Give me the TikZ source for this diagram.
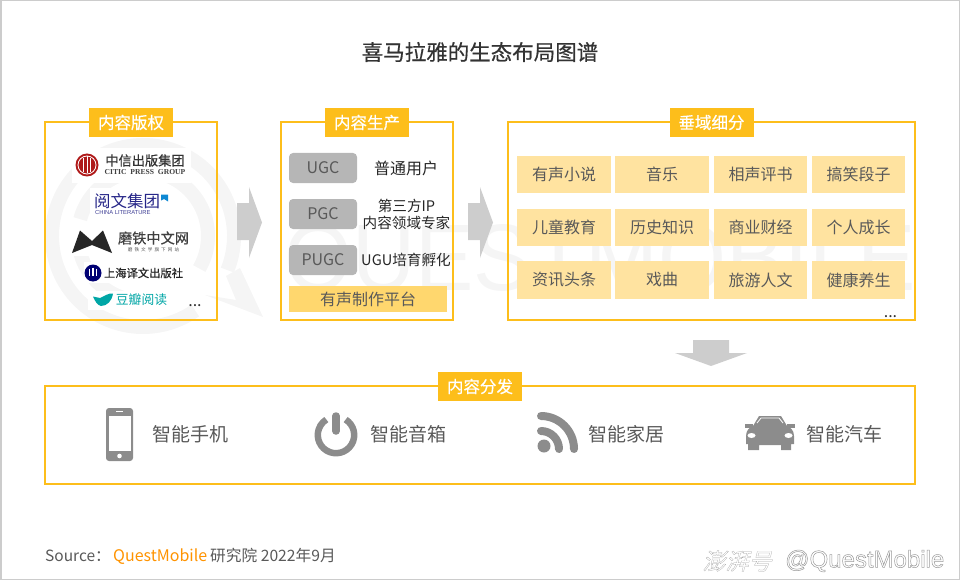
\documentclass[tikz,border=0pt]{standalone}
\usepackage{fontspec}
\setmainfont{Noto Sans CJK SC}
\newfontfamily\medfont[FakeBold=0.5]{Noto Sans CJK SC}
\newfontfamily\slantfont[FakeSlant=0.25,FakeBold=1]{Noto Sans CJK SC}
\newfontfamily\serfont{Liberation Serif}
\newfontfamily\armfont{Liberation Sans}
\definecolor{panelyellow}{HTML}{FDBE1B}
\definecolor{cellyellow}{HTML}{FFE3A0}
\definecolor{plateyellow}{HTML}{FFD76E}
\definecolor{pillgrey}{HTML}{B6B6B6}
\definecolor{arrowgrey}{HTML}{CDCDCD}
\definecolor{icongrey}{HTML}{8C8C8C}
\definecolor{markgrey}{HTML}{F5F5F5}
\definecolor{textgrey}{HTML}{595959}
\newcommand{\fsz}[1]{\fontsize{#1}{#1}\selectfont}
\tikzset{
  panel/.style={draw=panelyellow,line width=2pt,inner sep=0pt},
  paneltag/.style={fill=panelyellow,text=white,inner sep=0pt,minimum width=84pt,minimum height=29pt,font=\medfont\fsz{16.5}},
  cell/.style={fill=cellyellow,text=textgrey,inner sep=0pt,minimum height=37pt,font=\fsz{16}},
  pill/.style={fill=pillgrey,text=textgrey,rounded corners=4pt,inner sep=0pt,minimum width=68pt,minimum height=30pt,font=\fsz{16}},
  roletext/.style={text=black!85,inner sep=0pt,font=\fsz{14.6},align=center},
  devtext/.style={text=textgrey,inner sep=0pt,font=\fsz{19}},
  blockarrow/.style={fill=arrowgrey,draw=none},
  icon/.style={fill=icongrey,draw=none},
  logoback/.style={fill=white,draw=none},
  marksty/.style={markgrey,line width=14pt}
}
\begin{document}
\begin{tikzpicture}[x=1pt,y=-1pt]
\useasboundingbox (0,0) rectangle (960,580);
\draw[line width=1.5pt,black!20] (0.75,0.75) rectangle (959.25,579.25);
% watermark
\draw[marksty] (143,236) ++(22:91) arc (22:-305:91);
\draw[marksty] (143,236) ++(30:65) arc (30:-165:65);
\draw[marksty] (143,236) ++(165:65) arc (165:75:65);
\fill[markgrey] (205,295)--(263,317)--(240,268)--(226,276)--(236,300)--cycle;
\node[text=markgrey,inner sep=0pt,anchor=west,font=\armfont\fsz{92}] (markletters) at (284,266){\resizebox{632pt}{66pt}{QUESTMOBILE}};
% title
\node[text=black!80,inner sep=0pt,font=\medfont\fsz{21.5}] (title) at (480,52){喜马拉雅的生态布局图谱};
% panels
\node[panel,minimum width=171.5pt,minimum height=197.5pt] (rights) at (131,221){};
\node[panel,minimum width=171.5pt,minimum height=197.5pt] (produce) at (367,221){};
\node[panel,minimum width=407pt,minimum height=197.5pt] (vertical) at (711.5,221){};
\node[panel,minimum width=870pt,minimum height=98pt] (deliver) at (480,434.5){};
\node[paneltag] (rightstag) at (131,122.5){内容版权};
\node[paneltag] (producetag) at (367,122.5){内容生产};
\node[paneltag] (verticaltag) at (711.5,122.5){垂域细分};
\node[paneltag] (delivertag) at (480,386.5){内容分发};
% logos
\fill[logoback] (72,148) rectangle (191,183);
\fill[logoback] (90,188) rectangle (170,216);
\fill[logoback] (72,228) rectangle (190,256);
\fill[logoback] (84,262) rectangle (188,283);
\fill[logoback] (88,291) rectangle (174,310);
\fill[red!65!black!90!white] (87,165) circle (11.5);
\draw[white,line width=0.8pt] (87,165) circle (9);
\draw[white,line width=1pt] (83.5,158)--(83.5,172) (87,156.5)--(87,173.5) (90.5,158)--(90.5,172);
\node[inner sep=0pt,text=black!80,font=\medfont\fsz{13.2}] (citic) at (145,160.5){中信出版集团};
\node[inner sep=0pt,text=black!75,font=\serfont\bfseries\fsz{7.6}] (citicen) at (145,172.5){CITIC\ \ PRESS\ \ GROUP};
\node[inner sep=0pt,text=blue!45!black!85,font=\fsz{16.5}] (yuewen) at (127,201){阅文集团};
\fill[cyan!70!blue] (161,194.5)--(168,194.5)--(168,201.5)--(164,199)--(161,200.5)--cycle;
\node[inner sep=0pt,anchor=west,text=blue!45!black!75,font=\armfont\fsz{5.8}] (yuewenen) at (95,213){CHINA LITERATURE};
\fill[black!85] (72,253)--(80,230.5)--(92,241)--(103,230.5)--(112,253)--(92,245)--cycle;
\node[inner sep=0pt,text=black!75,font=\medfont\fsz{14.2}] (motie) at (153.5,238){磨铁中文网};
\node[inner sep=0pt,text=black!65,font=\fsz{4.6}] (motiesub) at (153.5,249.5){磨\ \ 铁\ \ 文\ \ 学\ \ 旗\ \ 下\ \ 网\ \ 站};
\fill[blue!45!black] (93,273) circle (8.5);
\draw[white,line width=1.2pt] (89.5,268.5)--(89.5,276) (93,267.5)--(93,276) (96.5,268.5)--(96.5,276);
\node[inner sep=0pt,text=black!85,font=\medfont\fsz{11.3}] (yiwen) at (143.5,273){上海译文出版社};
\fill[teal!70!cyan] (93,296.5)--(100,298)..controls (105,296) and (108,293) .. (113,293.5)..controls (112,301) and (107,306) .. (101,306)..controls (97,305) and (95,301) .. cycle;
\node[inner sep=0pt,text=teal!70!cyan,font=\fsz{12.8}] (douban) at (141.5,300){豆瓣阅读};
\node[inner sep=0pt,anchor=base,text=black!80,font=\fsz{16}] (moreleft) at (195,306){...};
% production
\node[pill] (ugc) at (323,168){UGC};
\node[pill] (pgc) at (323,214){PGC};
\node[pill] (pugc) at (323,260){PUGC};
\node[roletext,font=\fsz{16}] (ugctext) at (406,168){普通用户};
\node[roletext] (pgctext) at (406.5,214.5){第三方IP\\[3pt]内容领域专家};
\node[roletext] (pugctext) at (406,260){UGU培育孵化};
\node[fill=plateyellow,text=textgrey,inner sep=0pt,minimum width=158pt,minimum height=26pt,font=\fsz{16}] (platform) at (368,299){有声制作平台};
% verticals
\node[cell,minimum width=94pt] (audiobook) at (564,174.5){有声小说};
\node[cell,minimum width=94pt] (music) at (662,174.5){音乐};
\node[cell,minimum width=93pt] (crosstalk) at (760.5,174.5){相声评书};
\node[cell,minimum width=93pt] (jokes) at (858.5,174.5){搞笑段子};
\node[cell,minimum width=94pt] (kids) at (564,227.5){儿童教育};
\node[cell,minimum width=94pt] (history) at (662,227.5){历史知识};
\node[cell,minimum width=93pt] (business) at (760.5,227.5){商业财经};
\node[cell,minimum width=93pt] (growth) at (858.5,227.5){个人成长};
\node[cell,minimum width=94pt,minimum height=38pt] (news) at (564,280){资讯头条};
\node[cell,minimum width=94pt,minimum height=38pt] (opera) at (662,280){戏曲};
\node[cell,minimum width=93pt,minimum height=38pt] (travel) at (760.5,280){旅游人文};
\node[cell,minimum width=93pt,minimum height=38pt] (health) at (858.5,280){健康养生};
\node[inner sep=0pt,anchor=base,text=black!80,font=\fsz{16}] (moreright) at (890.5,317){...};
% block arrows
\fill[blockarrow] (237,203)--(249,203)--(249,187)--(262,222.5)--(249,258)--(249,240)--(237,240)--cycle;
\fill[blockarrow] (468,203)--(480,203)--(480,187)--(493,222.5)--(480,258)--(480,240)--(468,240)--cycle;
\fill[blockarrow] (693,340)--(729,340)--(729,353)--(747,353)--(711,366)--(675,353)--(693,353)--cycle;
% devices
\fill[icon,rounded corners=3pt] (106,408) rectangle (133,461);
\fill[white] (108.5,416) rectangle (131,451);
\fill[white] (119.5,456) circle (2.3);
\draw[white,line width=0.7pt] (116,411.8)--(123,411.8);
\node[devtext] (phone) at (190,434){智能手机};
\draw[icongrey,line width=6.5pt] (336,435) ++(-58:18.2) arc (-58:238:18.2);
\draw[icongrey,line width=7.5pt,line cap=round] (336,416)--(336,431);
\node[devtext] (speaker) at (408,434){智能音箱};
\fill[icon] (544,446) circle (6.5);
\draw[icongrey,line width=8pt,line cap=round] (541,416) arc (-90:0:33);
\draw[icongrey,line width=8pt,line cap=round] (541,431) arc (-90:0:18);
\node[devtext] (home) at (626,434){智能家居};
\fill[icon] (746,436) .. controls (746,430) and (750,427) .. (753,426)--(759,416)--(781,416)--(787,426) .. controls (790,427) and (794,430) .. (794,436)--(794,444)--(791,444)--(791,450)--(781,450)--(781,445)--(759,445)--(759,450)--(748,450)--(748,444)--(746,444)--cycle;
\fill[icon] (745,423.5) rectangle (753,428);
\fill[icon] (787,423.5) rectangle (795,428);
\draw[white,line width=0.8pt] (757,423)--(761,418)--(779,418)--(783,423);
\fill[white] (751.5,435.5) ellipse (4 and 2.5);
\fill[white] (788.5,435.5) ellipse (4 and 2.5);
\node[devtext] (car) at (844,434){智能汽车};
% footer
\node[inner sep=0pt,anchor=base west,text=textgrey,font=\fsz{15.5}] (source) at (45,561){Source：};
\node[inner sep=0pt,anchor=base west,text=orange!85!yellow,font=\fsz{16}] (qm) at (113,561){QuestMobile};
\node[inner sep=0pt,anchor=base west,text=textgrey,font=\fsz{15.7}] (institute) at (210,561){研究院 2022年9月};
% press stamp
\node[inner sep=0pt,text=white,font=\slantfont\fsz{23}] (pressname) at (737,561){\special{pdf:code 2 Tr 0.6 w 0.65 G}澎湃号\special{pdf:code 0 Tr}};
\node[inner sep=0pt,anchor=west,text=white,font=\armfont\fsz{24}] (pressuser) at (785,561){\special{pdf:code 2 Tr 0.5 w 0.6 G}@QuestMobile\special{pdf:code 0 Tr}};
\end{tikzpicture}
\end{document}
